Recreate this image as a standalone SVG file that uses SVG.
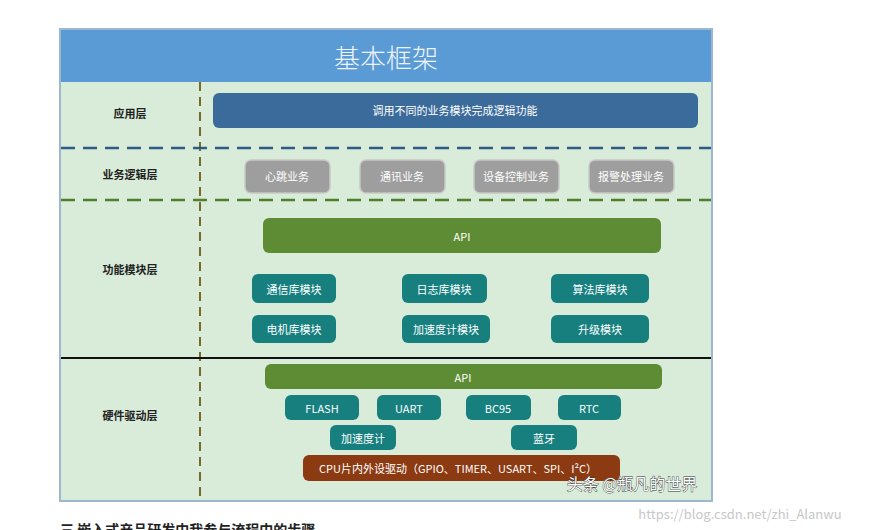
<svg xmlns="http://www.w3.org/2000/svg" width="880" height="530" viewBox="0 0 880 530">
<style>
text{font-family:"Noto Sans CJK SC","Noto Sans",sans-serif;text-anchor:middle;dominant-baseline:central}
.lay{font-size:11px;font-weight:bold;fill:#222}
.w{font-size:11px;fill:#fff}
.g{fill:#9e9e9e;stroke:#c8c8c8;stroke-width:1.5}
.t{fill:#17807f}
.api{fill:#5e8c35}
</style>
<rect width="880" height="530" fill="#fff"/>
<rect x="60" y="29" width="652" height="472" fill="#d8ecd9" stroke="#9bb8cf" stroke-width="2"/>
<rect id="title" x="61" y="30" width="650" height="52" fill="#5b9bd5"/>
<text x="386" y="56" font-size="26" font-weight="300" fill="#eef4fb">基本框架</text>
<g id="connectors">
<line x1="200" y1="82" x2="200" y2="500" stroke="#7a6a2a" stroke-width="2" stroke-dasharray="9,6"/>
<line x1="61" y1="148" x2="711" y2="148" stroke="#2f5b86" stroke-width="2.5" stroke-dasharray="14,8"/>
<line x1="61" y1="200" x2="711" y2="200" stroke="#4f7f2c" stroke-width="2.5" stroke-dasharray="14,8"/>
<line x1="61" y1="358" x2="711" y2="358" stroke="#111" stroke-width="2"/>
</g>
<text class="lay" x="130" y="113">应用层</text>
<text class="lay" x="130" y="174">业务逻辑层</text>
<text class="lay" x="130" y="269">功能模块层</text>
<text class="lay" x="130" y="415">硬件驱动层</text>
<g id="app"><rect x="213" y="93" width="485" height="35" rx="6" fill="#3b6b9b"/><text class="w" x="455" y="110">调用不同的业务模块完成逻辑功能</text></g>
<g id="b1"><rect class="g" x="245" y="160" width="85" height="33" rx="6"/><text class="w" x="287" y="176">心跳业务</text></g>
<g id="b2"><rect class="g" x="360" y="160" width="85" height="33" rx="6"/><text class="w" x="402" y="176">通讯业务</text></g>
<g id="b3"><rect class="g" x="474" y="160" width="85" height="33" rx="6"/><text class="w" x="516" y="176">设备控制业务</text></g>
<g id="b4"><rect class="g" x="589" y="160" width="85" height="33" rx="6"/><text class="w" x="631" y="176">报警处理业务</text></g>
<g id="api1"><rect class="api" x="263" y="218" width="398" height="35" rx="6"/><text class="w" x="462" y="236" font-size="10">API</text></g>
<g id="m1"><rect class="t" x="252" y="274" width="84" height="29" rx="6"/><text class="w" x="294" y="289">通信库模块</text></g>
<g id="m2"><rect class="t" x="402" y="274" width="85" height="29" rx="6"/><text class="w" x="444" y="289">日志库模块</text></g>
<g id="m3"><rect class="t" x="551" y="274" width="98" height="29" rx="6"/><text class="w" x="600" y="289">算法库模块</text></g>
<g id="m4"><rect class="t" x="252" y="315" width="84" height="28" rx="6"/><text class="w" x="294" y="329">电机库模块</text></g>
<g id="m5"><rect class="t" x="402" y="315" width="88" height="28" rx="6"/><text class="w" x="446" y="329">加速度计模块</text></g>
<g id="m6"><rect class="t" x="551" y="315" width="98" height="28" rx="6"/><text class="w" x="600" y="329">升级模块</text></g>
<g id="api2"><rect class="api" x="265" y="364" width="397" height="25" rx="6"/><text class="w" x="463" y="377" font-size="10">API</text></g>
<g id="h1"><rect class="t" x="285" y="395" width="74" height="25" rx="6"/><text class="w" x="322" y="408" font-size="10">FLASH</text></g>
<g id="h2"><rect class="t" x="377" y="395" width="64" height="25" rx="6"/><text class="w" x="409" y="408" font-size="10">UART</text></g>
<g id="h3"><rect class="t" x="466" y="395" width="65" height="25" rx="6"/><text class="w" x="498" y="408" font-size="10">BC95</text></g>
<g id="h4"><rect class="t" x="558" y="395" width="63" height="25" rx="6"/><text class="w" x="589" y="408" font-size="10">RTC</text></g>
<g id="h5"><rect class="t" x="330" y="425" width="66" height="25" rx="6"/><text class="w" x="363" y="438">加速度计</text></g>
<g id="h6"><rect class="t" x="511" y="425" width="66" height="25" rx="6"/><text class="w" x="544" y="438">蓝牙</text></g>
<g id="cpu"><rect x="303" y="455" width="317" height="26" rx="6" fill="#8b3a12"/><text class="w" x="458" y="468" font-size="10">CPU片内外设驱动（GPIO、TIMER、USART、SPI、I²C）</text></g>
<text x="632" y="483" font-size="16" fill="#fff" stroke="#333" stroke-width="0.8" paint-order="stroke">头条 @瓶凡的世界</text>
<text x="740" y="513" font-size="13" fill="#c8c8c8" font-family="Liberation Sans,sans-serif">https://blog.csdn.net/zhi_Alanwu</text>
<text x="60" y="529" font-size="14" font-weight="bold" fill="#222" style="text-anchor:start">三  嵌入式产品研发中我参与流程中的步骤</text>
</svg>
